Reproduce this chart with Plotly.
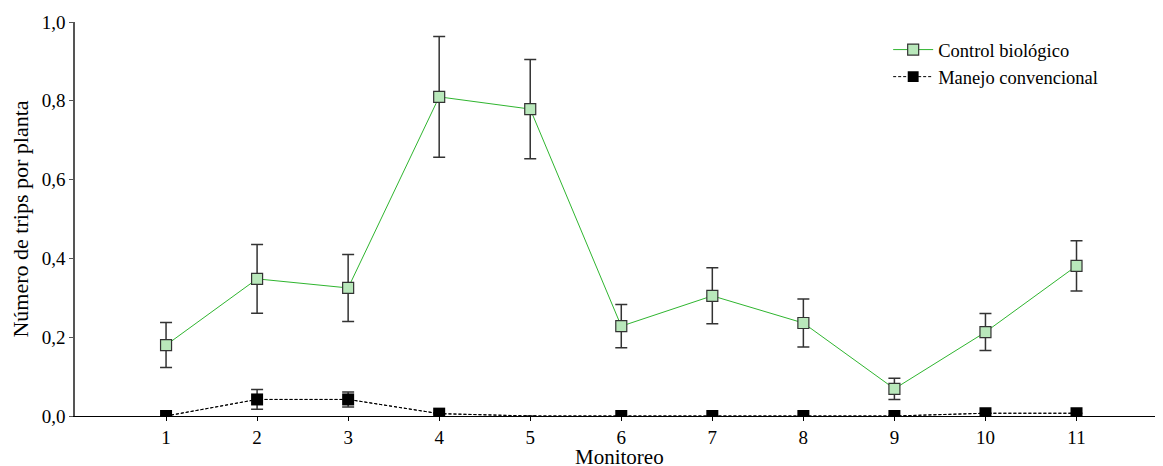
import plotly.graph_objects as go

monitoreo = [1, 2, 3, 4, 5, 6, 7, 8, 9, 10, 11]
tick_labels = ["1", "2", "3", "4", "5", "6", "7", "8", "9", "10", "11"]

control_biologico = [0.180, 0.348, 0.325, 0.810, 0.779, 0.228, 0.305, 0.236, 0.069, 0.213, 0.381]
control_err = [0.057, 0.087, 0.085, 0.153, 0.126, 0.055, 0.071, 0.061, 0.027, 0.047, 0.064]

manejo_convencional = [0.0, 0.042, 0.042, 0.006, 0.0, 0.0, 0.0, 0.0, 0.0, 0.007, 0.007]
manejo_err = [0.0, 0.025, 0.019, 0.0, 0.0, 0.0, 0.0, 0.0, 0.0, 0.0, 0.0]
manejo_marker_size = [12, 12, 12, 12, 0, 12, 12, 12, 12, 12, 12]

x_title = "Monitoreo"
y_title = "Número de trips por planta"

font_family = "Liberation Serif, Times New Roman, serif"

fig = go.Figure()

fig.add_trace(go.Scatter(
    x=monitoreo, y=manejo_convencional,
    name="Manejo convencional",
    mode="lines",
    line=dict(color="black", width=1, dash="3px,2px"),
    error_y=dict(type="data", array=manejo_err, visible=True,
                 color="#333333", thickness=1.5, width=6),
    showlegend=False,
))
fig.add_trace(go.Scatter(
    x=monitoreo, y=manejo_convencional,
    name="Manejo convencional",
    mode="lines+markers",
    line=dict(color="black", width=1, dash="3px,2px"),
    marker=dict(symbol="square", size=manejo_marker_size, color="#000000", opacity=1,
                line=dict(width=0)),
))

fig.add_trace(go.Scatter(
    x=monitoreo, y=control_biologico,
    name="Control biológico",
    mode="lines+markers",
    line=dict(color="#2fb52f", width=1),
    marker=dict(symbol="square", size=11, color="#b9e8bb",
                line=dict(color="#333333", width=1.2)),
    error_y=dict(type="data", array=control_err, visible=True,
                 color="#333333", thickness=1.5, width=6),
))

fig.add_annotation(
    text=x_title, x=0.5, xref="paper", y=-0.127, yref="paper",
    xanchor="center", yanchor="bottom", showarrow=False, yshift=-5,
    font=dict(family=font_family, size=21, color="black"),
)

fig.update_layout(
    width=1155, height=458,
    margin=dict(l=67, r=0, t=14, b=50, autoexpand=False),
    paper_bgcolor="white", plot_bgcolor="white",
    separators=",.",
    font=dict(family=font_family, size=18, color="black"),
    showlegend=True,
    legend=dict(
        x=0.7474, y=0.977, xanchor="left", yanchor="top",
        traceorder="reversed",
        font=dict(family=font_family, size=18.5, color="black"),
        bgcolor="rgba(0,0,0,0)",
        itemwidth=40,
        tracegroupgap=0,
    ),
    xaxis=dict(
        range=[0, 11.95],
        automargin=False,
        tickmode="array", tickvals=monitoreo, ticktext=tick_labels,
        showgrid=False, zeroline=False,
        showline=True, linecolor="black", linewidth=1,
        ticks="outside", ticklen=4, tickcolor="black",
        tickfont=dict(family=font_family, size=19),
    ),
    yaxis=dict(
        range=[0, 1.0],
        automargin=True,
        tickvals=[0, 0.2, 0.4, 0.6, 0.8, 1.0],
        tickformat=".1f",
        showgrid=False, zeroline=False,
        showline=True, linecolor="#555555", linewidth=1.5,
        ticks="outside", ticklen=4, tickcolor="#555555",
        tickfont=dict(family=font_family, size=19),
        title=dict(text=y_title, font=dict(family=font_family, size=22), standoff=16),
    ),
)

fig.write_html("out.html")
